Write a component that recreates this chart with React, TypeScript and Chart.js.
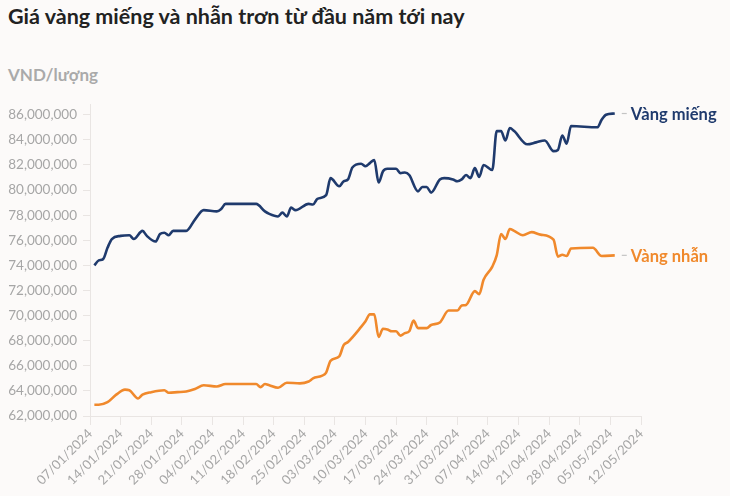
import React, { useEffect, useRef } from "react";
import { Chart, registerables } from "chart.js";

Chart.register(...registerables);

const TITLE = "Giá vàng miếng và nhẫn trơn từ đầu năm tới nay";
const UNIT = "VND/lượng";
const START = "07/01/2024";

const xTickLabels = [
  "07/01/2024", "14/01/2024", "21/01/2024", "28/01/2024", "04/02/2024",
  "11/02/2024", "18/02/2024", "25/02/2024", "03/03/2024", "10/03/2024",
  "17/03/2024", "24/03/2024", "31/03/2024", "07/04/2024", "14/04/2024",
  "21/04/2024", "28/04/2024", "05/05/2024", "12/05/2024",
];

const yTicks = [62e6, 64e6, 66e6, 68e6, 70e6, 72e6, 74e6, 76e6, 78e6, 80e6, 82e6, 84e6, 86e6];

// Vàng miếng (gold bars), million VND per lượng
const miengDates = [
  "08/01", "09/01", "10/01", "11/01", "12/01", "14/01", "16/01", "17/01", "19/01", "20/01",
  "22/01", "23/01", "24/01", "25/01", "26/01", "29/01", "31/01", "02/02", "05/02", "06/02",
  "07/02", "14/02", "16/02", "17/02", "19/02", "20/02", "21/02", "22/02", "23/02", "26/02",
  "27/02", "28/02", "01/03", "02/03", "04/03", "05/03", "06/03", "07/03", "09/03", "10/03",
  "11/03", "12/03", "13/03", "14/03", "15/03", "17/03", "18/03", "19/03", "20/03", "22/03",
  "23/03", "24/03", "25/03", "27/03", "28/03", "30/03", "31/03", "01/04", "02/04", "03/04",
  "04/04", "05/04", "06/04", "08/04", "09/04", "10/04", "11/04", "12/04", "13/04", "16/04",
  "18/04", "20/04", "22/04", "23/04", "24/04", "25/04", "26/04", "02/05", "03/05", "04/05",
  "06/05",
];
const miengValues = [
  74.0, 74.4, 74.5, 75.4, 76.1, 76.35, 76.4, 76.1, 76.75, 76.35,
  75.9, 76.5, 76.6, 76.4, 76.75, 76.75, 77.65, 78.4, 78.3, 78.5,
  78.9, 78.9, 78.3, 78.1, 77.9, 78.2, 77.9, 78.6, 78.4, 78.9,
  78.85, 79.3, 79.6, 80.95, 80.3, 80.7, 80.85, 81.8, 82.1, 81.9,
  82.15, 82.4, 80.6, 81.5, 81.7, 81.7, 81.35, 81.4, 81.2, 79.9,
  80.25, 80.25, 79.8, 80.85, 80.95, 80.85, 80.7, 80.85, 81.2, 80.95,
  81.75, 81.05, 82.0, 81.6, 84.7, 84.7, 83.95, 84.95, 84.7, 83.65,
  83.8, 83.95, 83.1, 83.2, 84.35, 83.7, 85.1, 85.0, 85.6, 86.0,
  86.1,
];

// Vàng nhẫn (plain rings), million VND per lượng
const nhanDates = [
  "08/01", "09/01", "11/01", "13/01", "15/01", "16/01", "18/01", "19/01", "21/01", "24/01",
  "25/01", "27/01", "29/01", "31/01", "02/02", "05/02", "07/02", "14/02", "15/02", "16/02",
  "17/02", "19/02", "21/02", "24/02", "26/02", "27/02", "29/02", "01/03", "02/03", "04/03",
  "05/03", "06/03", "09/03", "10/03", "11/03", "12/03", "13/03", "14/03", "15/03", "16/03",
  "17/03", "18/03", "19/03", "20/03", "21/03", "22/03", "24/03", "25/03", "27/03", "29/03",
  "31/03", "01/04", "02/04", "04/04", "05/04", "06/04", "08/04", "09/04", "10/04", "11/04",
  "12/04", "13/04", "15/04", "17/04", "19/04", "22/04", "23/04", "24/04", "25/04", "26/04",
  "01/05", "03/05", "06/05",
];
const nhanValues = [
  62.9, 62.9, 63.1, 63.7, 64.1, 64.05, 63.4, 63.7, 63.9, 64.05,
  63.85, 63.9, 63.95, 64.15, 64.45, 64.35, 64.55, 64.55, 64.3, 64.55,
  64.45, 64.25, 64.65, 64.6, 64.75, 65.0, 65.2, 65.45, 66.4, 66.75,
  67.65, 67.9, 69.1, 69.55, 70.1, 70.1, 68.3, 68.95, 68.9, 68.75,
  68.75, 68.4, 68.6, 68.75, 69.6, 69.0, 69.0, 69.25, 69.45, 70.4,
  70.4, 70.8, 70.85, 71.95, 71.7, 72.85, 73.9, 74.8, 76.5, 76.1,
  76.9, 76.75, 76.4, 76.65, 76.45, 76.05, 74.7, 74.85, 74.75, 75.35,
  75.4, 74.75, 74.8,
];

const seriesNames = ["Vàng miếng", "Vàng nhẫn"];
const seriesColors = ["#1f3a6d", "#f0892c"];

const FONT = "Lato, 'Noto Sans', sans-serif";

function toUTC(s: string) {
  const [d, m, y] = s.split("/").map(Number);
  return Date.UTC(y || 2024, m - 1, d);
}
function dayOffset(s: string) {
  return Math.round((toUTC(s) - toUTC(START)) / 86400000);
}
function points(dates: string[], values: number[]) {
  return dates.map((d, i) => ({ x: dayOffset(d), y: values[i] * 1e6 }));
}

const endLabels = {
  id: "endLabels",
  afterDatasetsDraw(chart: any) {
    const ctx = chart.ctx;
    ctx.save();
    chart.data.datasets.forEach((ds: any, i: number) => {
      const meta = chart.getDatasetMeta(i);
      const last = meta.data[meta.data.length - 1];
      if (!last) return;
      const x = last.x;
      const y = last.y;
      ctx.strokeStyle = "#c4c4c4";
      ctx.lineWidth = 1.2;
      ctx.beginPath();
      ctx.moveTo(x + 7, y);
      ctx.lineTo(x + 12, y);
      ctx.stroke();
      ctx.fillStyle = ds.borderColor;
      ctx.font = `bold 16.5px ${FONT}`;
      ctx.textAlign = "left";
      ctx.textBaseline = "middle";
      ctx.fillText(ds.label, x + 16, y + 1);
    });
    ctx.restore();
  },
};

export default function App() {
  const ref = useRef<HTMLCanvasElement | null>(null);

  useEffect(() => {
    document.body.style.margin = "0";
    document.body.style.background = "#fcfaf9";
    if (!ref.current) return;
    const tickColor = "#a6a6a6";
    const gridColor = "#e9e5e3";
    const chart = new Chart(ref.current, {
      type: "line",
      data: {
        datasets: [
          {
            label: seriesNames[0],
            data: points(miengDates, miengValues),
            borderColor: seriesColors[0],
            backgroundColor: seriesColors[0],
            borderWidth: 2.6,
            pointRadius: 0,
            cubicInterpolationMode: "monotone",
          },
          {
            label: seriesNames[1],
            data: points(nhanDates, nhanValues),
            borderColor: seriesColors[1],
            backgroundColor: seriesColors[1],
            borderWidth: 2.6,
            pointRadius: 0,
            cubicInterpolationMode: "monotone",
          },
        ],
      },
      options: {
        animation: false,
        responsive: false,
        maintainAspectRatio: false,
        layout: { padding: { top: 7, right: 89, left: 0, bottom: 0 } },
        plugins: { legend: { display: false }, tooltip: { enabled: false } },
        scales: {
          x: {
            type: "linear",
            min: 0,
            max: (xTickLabels.length - 1) * 7,
            afterBuildTicks: (scale: any) => {
              scale.ticks = xTickLabels.map((_, i) => ({ value: i * 7 }));
            },
            afterFit: (scale: any) => {
              scale.height = 80;
            },
            ticks: {
              autoSkip: false,
              minRotation: 45,
              maxRotation: 45,
              color: tickColor,
              padding: 1,
              font: { family: FONT, size: 13 },
              callback: (v: any) => xTickLabels[Math.round(Number(v) / 7)] ?? "",
            },
            grid: { drawOnChartArea: false, drawTicks: true, tickLength: 9, color: gridColor },
            border: { display: true, color: gridColor },
          },
          y: {
            min: 62e6,
            max: 86.85e6,
            afterBuildTicks: (scale: any) => {
              scale.ticks = yTicks.map((v) => ({ value: v }));
            },
            afterFit: (scale: any) => {
              scale.width = 90;
            },
            ticks: {
              color: tickColor,
              padding: 6,
              font: { family: FONT, size: 13.5 },
              callback: (v: any) => Number(v).toLocaleString("en-US"),
            },
            grid: { drawOnChartArea: false, drawTicks: true, tickLength: 7, color: gridColor },
            border: { display: true, color: gridColor },
          },
        },
      } as any,
      plugins: [endLabels],
    });
    return () => chart.destroy();
  }, []);

  return (
    <div
      style={{
        position: "relative",
        width: 730,
        height: 496,
        background: "#fcfaf9",
        fontFamily: FONT,
        overflow: "hidden",
      }}
    >
      <div
        style={{
          position: "absolute",
          left: 8,
          top: 3,
          fontSize: 21.5,
          fontWeight: 700,
          color: "#222222",
          whiteSpace: "nowrap",
        }}
      >
        {TITLE}
      </div>
      <div
        style={{
          position: "absolute",
          left: 8,
          top: 64,
          fontSize: 17,
          fontWeight: 700,
          color: "#aaaaaa",
          whiteSpace: "nowrap",
        }}
      >
        {UNIT}
      </div>
      <canvas
        ref={ref}
        width={730}
        height={406}
        style={{ position: "absolute", left: 0, top: 90, width: 730, height: 406 }}
      />
    </div>
  );
}
